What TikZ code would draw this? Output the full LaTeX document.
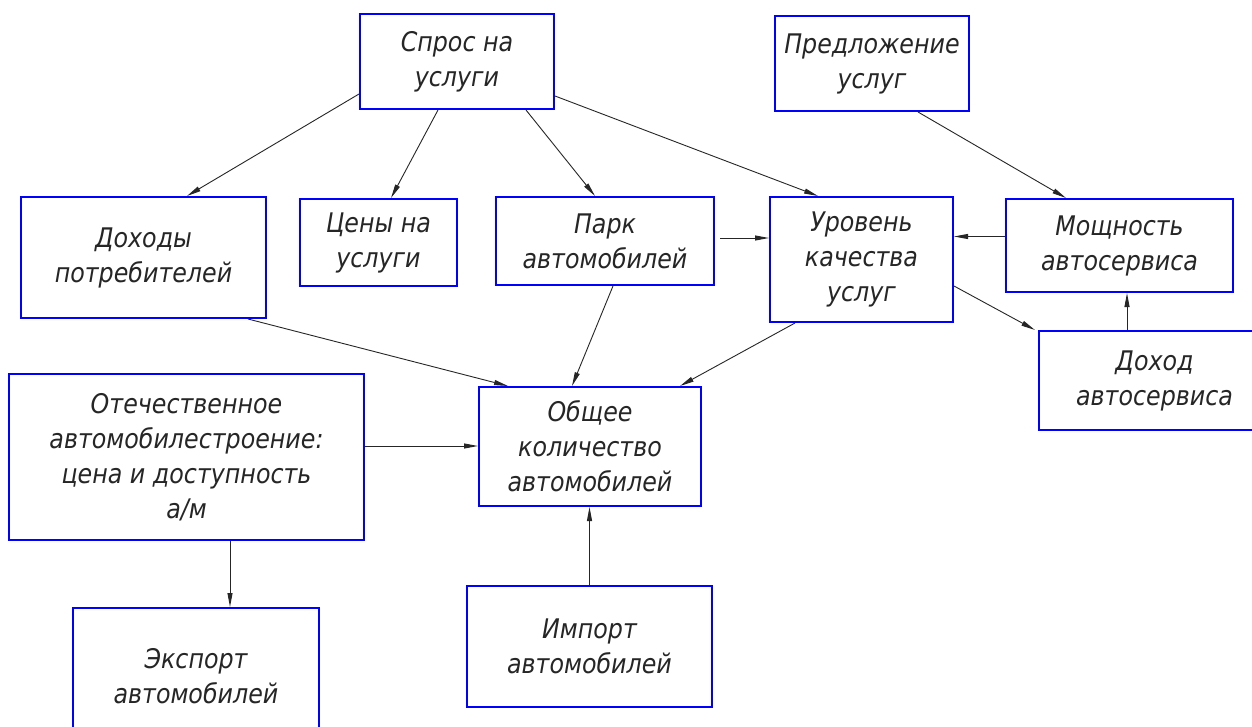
\documentclass[tikz,border=0pt]{standalone}
\usepackage{fontspec}
\newfontfamily\gost[FakeStretch=0.88]{DejaVu Sans}
\usetikzlibrary{arrows.meta}
\tikzset{
  box/.style={draw=blue, line width=2pt, fill=white, align=center, inner sep=0pt,
    font=\gost\itshape\fontsize{27}{35}\selectfont, text=black!85},
  arr/.style={draw=black!85, line width=0.9pt, -{Triangle[length=14pt,width=5pt]}}
}
\begin{document}
\begin{tikzpicture}[x=1pt,y=-1pt]
\useasboundingbox (0,0) rectangle (1252,727);
\fill[white] (0,0) rectangle (1252,727);
\clip (0,0) rectangle (1252,727);
% boxes
\node[box, minimum width=194pt, minimum height=95pt] (spros) at (457,61.5) {Спрос на\\услуги};
\node[box, minimum width=194pt, minimum height=95pt] (pred) at (872,63.5) {Предложение\\услуг};
\node[box, minimum width=245pt, minimum height=121pt] (dohody) at (143.5,257.5) {Доходы\\потребителей};
\node[box, minimum width=157pt, minimum height=87pt] (tseny) at (378.5,242.5) {Цены на\\услуги};
\node[box, minimum width=218pt, minimum height=88pt] (park) at (605,241) {Парк\\автомобилей};
\node[box, minimum width=183pt, minimum height=125pt] (uroven) at (861.5,259.5) {Уровень\\качества\\услуг};
\node[box, minimum width=227pt, minimum height=93pt] (moshch) at (1119.5,245.5) {Мощность\\автосервиса};
\node[box, minimum width=231pt, minimum height=99pt] (dohod) at (1154.5,380.5) {Доход\\автосервиса};
\node[box, minimum width=355pt, minimum height=166pt] (oteche) at (186.5,457) {Отечественное\\автомобилестроение:\\цена и доступность\\а/м};
\node[box, minimum width=222pt, minimum height=119pt] (obshch) at (590,446.5) {Общее\\количество\\автомобилей};
\node[box, minimum width=246pt, minimum height=137pt] (eksport) at (196,676.5) {Экспорт\\автомобилей};
\node[box, minimum width=245pt, minimum height=121pt] (import) at (589.5,646.5) {Импорт\\автомобилей};
% helper coordinates
\coordinate (p1) at ([xshift=5pt,yshift=3pt]park.east);
\coordinate (m1) at ([yshift=9pt]moshch.west);
\coordinate (d1) at ([xshift=89pt]dohod.north west);
\coordinate (o1) at ([yshift=11pt]oteche.east);
\coordinate (o2) at ([xshift=222pt]oteche.south west);
% connectors
\draw[arr] ([yshift=16pt]spros.south west) -- ([xshift=167pt]dohody.north west);
\draw[arr] ([xshift=79pt]spros.south west) -- ([xshift=92pt]tseny.north west);
\draw[arr] ([xshift=167pt]spros.south west) -- ([xshift=100pt]park.north west);
\draw[arr] ([yshift=14pt]spros.south east) -- ([xshift=49pt]uroven.north west);
\draw[arr] ([xshift=144pt]pred.south west) -- ([xshift=61pt]moshch.north west);
\draw[arr] (p1) -- (p1 -| uroven.west);
\draw[arr] (m1) -- (m1 -| uroven.east);
\draw[arr] (d1) -- (d1 |- moshch.south);
\draw[arr] ([yshift=37pt]uroven.south east) -- ([xshift=-3pt]dohod.north west);
\draw[arr] ([xshift=26pt]uroven.south west) -- ([xshift=-22pt]obshch.north east);
\draw[arr] ([xshift=-19pt]dohody.south east) -- ([xshift=30pt]obshch.north west);
\draw[arr] ([xshift=118pt]park.south west) -- ([xshift=94pt]obshch.north west);
\draw[arr] (o1) -- (o1 -| obshch.west);
\draw[arr] (o2) -- (o2 |- eksport.north);
\draw[arr] (import.north) -- (import.north |- obshch.south);
\end{tikzpicture}
\end{document}
